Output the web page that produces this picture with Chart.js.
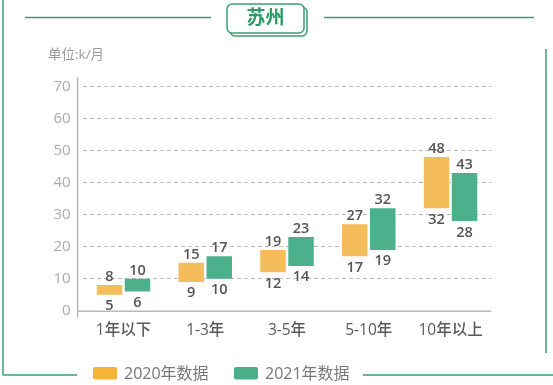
<!DOCTYPE html>
<html>
<head>
<meta charset="utf-8">
<script src="https://cdn.jsdelivr.net/npm/chart.js@4/dist/chart.umd.min.js"></script>
<style>
  html, body { margin: 0; padding: 0; background: #fff; }
  #wrap { width: 553px; height: 385px; position: relative; }
</style>
</head>
<body>
<div id="wrap"><canvas id="mycanvas"></canvas></div>
<script>
// data
var categories = ['1年以下', '1-3年', '3-5年', '5-10年', '10年以上'];
var low2020 = [5, 9, 12, 17, 32];
var high2020 = [8, 15, 19, 27, 48];
var low2021 = [6, 10, 14, 19, 28];
var high2021 = [10, 17, 23, 32, 43];
var seriesNames = ['2020年数据', '2021年数据'];
var yTicks = [0, 10, 20, 30, 40, 50, 60, 70];

var FONT = "'Open Sans', 'Noto Sans CJK SC', sans-serif";
var GREEN_LINE = '#3a9f74';

function pairs(lo, hi) {
  var out = [];
  for (var i = 0; i < lo.length; i++) out.push([lo[i], hi[i]]);
  return out;
}

// labels above / below each floating bar
var valueLabels = {
  id: 'valueLabels',
  afterDatasetsDraw: function(chart) {
    var ctx = chart.ctx;
    ctx.save();
    ctx.fillStyle = '#555';
    ctx.font = '600 14.5px ' + FONT;
    ctx.textAlign = 'center';
    ctx.textBaseline = 'alphabetic';
    chart.data.datasets.forEach(function(ds, di) {
      var meta = chart.getDatasetMeta(di);
      meta.data.forEach(function(bar, i) {
        var p = bar.getProps(['x', 'y', 'base'], true);
        var top = Math.min(p.y, p.base), bottom = Math.max(p.y, p.base);
        ctx.fillText(ds.data[i][1], p.x, top - 4);
        ctx.fillText(ds.data[i][0], p.x, bottom + 15.5);
      });
    });
    ctx.restore();
  }
};

// axis lines, frame, title box, unit, legend
var decor = {
  id: 'decor',
  afterDraw: function(chart) {
    var ctx = chart.ctx;
    var a = chart.chartArea;
    ctx.save();

    // axis lines
    ctx.strokeStyle = '#b8b8b8';
    ctx.lineWidth = 1.5;
    ctx.beginPath();
    ctx.moveTo(a.left - 5, a.top - 10);
    ctx.lineTo(a.left - 5, a.bottom + 7);
    ctx.moveTo(a.left - 5, a.bottom + 0.5);
    ctx.lineTo(a.right, a.bottom + 0.5);
    ctx.stroke();

    // green frame
    ctx.strokeStyle = GREEN_LINE;
    ctx.lineWidth = 1.5;
    ctx.beginPath();
    ctx.moveTo(3, 0); ctx.lineTo(3, 375);
    ctx.moveTo(3, 375); ctx.lineTo(77, 375);
    ctx.moveTo(363, 375); ctx.lineTo(553, 375);
    ctx.moveTo(546, 49); ctx.lineTo(546, 353);
    ctx.moveTo(25, 17.5); ctx.lineTo(211, 17.5);
    ctx.moveTo(324, 17.5); ctx.lineTo(534, 17.5);
    ctx.stroke();

    // title box with offset shadow box
    function rr(x, y, w, h, r) {
      ctx.beginPath();
      ctx.moveTo(x + r, y);
      ctx.arcTo(x + w, y, x + w, y + h, r);
      ctx.arcTo(x + w, y + h, x, y + h, r);
      ctx.arcTo(x, y + h, x, y, r);
      ctx.arcTo(x, y, x + w, y, r);
      ctx.closePath();
    }
    ctx.fillStyle = '#fff';
    rr(230, 7, 77, 29, 5); ctx.fill(); ctx.stroke();
    rr(227, 4, 77, 29, 5); ctx.fill(); ctx.stroke();
    ctx.fillStyle = '#2e9a6a';
    ctx.font = 'bold 19px ' + FONT;
    ctx.textAlign = 'center';
    ctx.textBaseline = 'middle';
    ctx.fillText('苏州', 265.5, 19);

    // unit
    ctx.fillStyle = '#9a9a9a';
    ctx.font = '13.5px ' + FONT;
    ctx.textAlign = 'left';
    ctx.fillText('单位:k/月', 48, 55);

    // legend
    var lx = [93, 234];
    ctx.font = '16px ' + FONT;
    chart.data.datasets.forEach(function(ds, i) {
      ctx.fillStyle = ds.legendColor;
      rr(lx[i], 367, 24, 12.5, 2);
      ctx.fill();
      ctx.fillStyle = '#777';
      ctx.textAlign = 'left';
      ctx.textBaseline = 'middle';
      ctx.fillText(ds.label, lx[i] + 31, 374);
    });

    ctx.restore();
  }
};

var chartdata = {
  labels: categories,
  datasets: [
    {
      label: seriesNames[0],
      backgroundColor: '#f4bc5b',
      legendColor: '#f5b438',
      data: pairs(low2020, high2020)
    },
    {
      label: seriesNames[1],
      backgroundColor: '#4bb08b',
      legendColor: '#4bae88',
      data: pairs(low2021, high2021)
    }
  ]
};

var ctx = document.getElementById('mycanvas');

var barGraph = new Chart(ctx, {
  type: 'bar',
  data: chartdata,
  options: {
    responsive: true,
    maintainAspectRatio: false,
    animation: false,
    categoryPercentage: 0.685,
    barPercentage: 0.91,
    layout: { padding: { left: 0, right: 61.6, top: 86.7, bottom: 34.3 } },
    plugins: {
      legend: { display: false },
      tooltip: { enabled: false }
    },
    scales: {
      x: {
        grid: { display: false },
        border: { display: false },
        ticks: { color: '#5a5a5a', font: { family: FONT, size: 15.5, weight: '500' }, padding: 3 },
        afterFit: function(s) { s.height = 40; }
      },
      y: {
        min: 0,
        max: 70,
        afterBuildTicks: function(s) {
          s.ticks = yTicks.map(function(v) { return { value: v }; });
        },
        grid: {
          color: function(c) { return c.tick && c.tick.value === 0 ? 'rgba(0,0,0,0)' : '#bdbdbd'; },
          lineWidth: 1,
          drawTicks: false
        },
        border: { display: false, dash: [4, 3] },
        ticks: { color: '#a9abb0', font: { family: FONT, size: 15, weight: '500' }, padding: 12 },
        afterFit: function(s) { s.width = 82.6; }
      }
    }
  },
  plugins: [valueLabels, decor]
});
</script>
</body>
</html>
